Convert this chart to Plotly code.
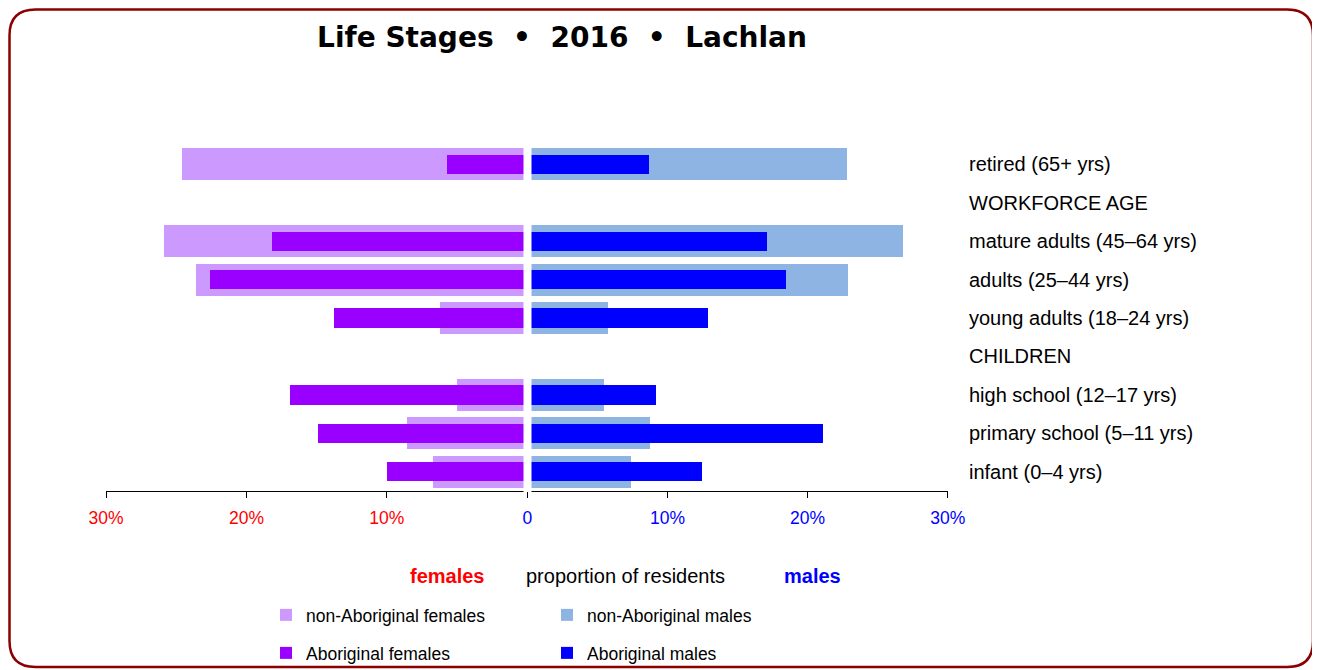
import plotly.graph_objects as go

# page body has an 8px margin, so the figure is 1312x662 and coordinates are shifted
OFF = 8
W, H = 1320 - OFF, 670 - OFF

# ---- data (top to bottom) ----
categories = ["retired (65+ yrs)", "WORKFORCE AGE", "mature adults (45–64 yrs)",
              "adults (25–44 yrs)", "young adults (18–24 yrs)", "CHILDREN",
              "high school (12–17 yrs)", "primary school (5–11 yrs)", "infant (0–4 yrs)"]
nonab_females = [24.6, None, 25.9, 23.6, 6.2, None, 5.0, 8.6, 6.7]
ab_females = [5.7, None, 18.2, 22.6, 13.8, None, 16.9, 14.9, 10.0]
nonab_males = [22.8, None, 26.8, 22.9, 5.8, None, 5.5, 8.75, 7.4]
ab_males = [8.7, None, 17.1, 18.5, 12.9, None, 9.2, 21.1, 12.5]

tick_vals = [0, 10, 20, 30]
tick_text_f = ["", "10%", "20%", "30%"]
tick_text_m = ["0", "10%", "20%", "30%"]

FONT = "Liberation Sans, Arial, sans-serif"
FS = 20
LEG_FS = 17.5

def px(x):
    return (x - OFF) / W

def py(y):
    return 1 - (y - OFF) / H

fig = go.Figure()

fig.add_trace(go.Bar(y=categories, x=nonab_females, orientation="h", width=0.83,
                     marker=dict(color="#CC99FF", line=dict(width=0)),
                     name="non-Aboriginal females", xaxis="x", yaxis="y", legend="legend"))
fig.add_trace(go.Bar(y=categories, x=nonab_males, orientation="h", width=0.83,
                     marker=dict(color="#8EB4E3", line=dict(width=0)),
                     name="non-Aboriginal males", xaxis="x2", yaxis="y2", legend="legend"))
fig.add_trace(go.Bar(y=categories, x=ab_females, orientation="h", width=0.5,
                     marker=dict(color="#9900FF", line=dict(width=0)),
                     name="Aboriginal females", xaxis="x", yaxis="y", legend="legend2"))
fig.add_trace(go.Bar(y=categories, x=ab_males, orientation="h", width=0.5,
                     marker=dict(color="#0000FF", line=dict(width=0)),
                     name="Aboriginal males", xaxis="x2", yaxis="y2", legend="legend2"))

cat_order = list(reversed(categories))
ydom = [py(491), py(145)]

axis_common = dict(showgrid=False, zeroline=False, showline=True, linecolor="black",
                   linewidth=1, ticks="outside", ticklen=6, tickcolor="black",
                   tickmode="array", tickvals=tick_vals, fixedrange=True, automargin=False,
                   ticklabelstandoff=5)

fig.update_layout(
    width=W, height=H,
    margin=dict(l=0, r=0, t=0, b=0, autoexpand=False),
    paper_bgcolor="white", plot_bgcolor="white",
    barmode="overlay", bargap=0,
    font=dict(family=FONT, size=FS, color="black"),
    xaxis=dict(domain=[px(106), px(527.3)], range=[30, 0], anchor="y",
               ticktext=tick_text_f, tickfont=dict(family=FONT, size=17.5, color="#FF0000"),
               **axis_common),
    xaxis2=dict(domain=[px(527.3), px(947.7)], range=[0, 30], anchor="y2",
                ticktext=tick_text_m, tickfont=dict(family=FONT, size=17.5, color="#0000FF"),
                **axis_common),
    yaxis=dict(domain=ydom, type="category", categoryorder="array", categoryarray=cat_order,
               range=[-0.5, 8.5], visible=False, anchor="x", fixedrange=True),
    yaxis2=dict(domain=ydom, type="category", categoryorder="array", categoryarray=cat_order,
                range=[-0.5, 8.5], visible=False, anchor="x2", fixedrange=True),
    title=dict(text="Life Stages\u00a0\u00a0•\u00a0\u00a02016\u00a0\u00a0•\u00a0\u00a0Lachlan",
               x=px(562), xref="container", xanchor="center",
               y=py(37), yref="container", yanchor="middle",
               font=dict(family="DejaVu Sans", size=28, color="black", weight="bold")),
    legend=dict(orientation="h", x=px(266), xanchor="left", y=py(615), yanchor="middle",
                entrywidth=236, entrywidthmode="pixels", itemwidth=30,
                font=dict(family=FONT, size=LEG_FS, color="black"), bgcolor="rgba(0,0,0,0)",
                itemclick=False, itemdoubleclick=False, traceorder="normal"),
    legend2=dict(orientation="h", x=px(266), xanchor="left", y=py(653), yanchor="middle",
                 entrywidth=236, entrywidthmode="pixels", itemwidth=30,
                 font=dict(family=FONT, size=LEG_FS, color="black"), bgcolor="rgba(0,0,0,0)",
                 itemclick=False, itemdoubleclick=False, traceorder="normal"),
    showlegend=True,
)

annotations = []
for c in categories:
    annotations.append(dict(text=c, x=px(967), xref="paper", xanchor="left",
                            y=c, yref="y2", yanchor="middle", showarrow=False,
                            font=dict(family=FONT, size=FS, color="black")))
annotations.append(dict(text="<b>females</b>", x=px(447), xref="paper", xanchor="center",
                        y=py(576), yref="paper", yanchor="middle", showarrow=False,
                        font=dict(family=FONT, size=FS, color="#FF0000")))
annotations.append(dict(text="proportion of residents", x=px(625.5), xref="paper", xanchor="center",
                        y=py(576), yref="paper", yanchor="middle", showarrow=False,
                        font=dict(family=FONT, size=FS, color="black")))
annotations.append(dict(text="<b>males</b>", x=px(812), xref="paper", xanchor="center",
                        y=py(576), yref="paper", yanchor="middle", showarrow=False,
                        font=dict(family=FONT, size=FS, color="#0000FF")))
fig.update_layout(annotations=annotations)

# centre gap between the two halves
shapes = [dict(type="rect", xref="paper", yref="paper", x0=px(523.5), x1=px(531.5),
               y0=py(492), y1=py(140), fillcolor="white", line=dict(width=0), layer="above")]

# rounded border
L, R, T, B, r = 9.5, 1313, 9.5, 667, 26
path = (f"M {px(L + r)},{py(T)} L {px(R - r)},{py(T)} Q {px(R)},{py(T)} {px(R)},{py(T + r)} "
        f"L {px(R)},{py(B - r)} Q {px(R)},{py(B)} {px(R - r)},{py(B)} "
        f"L {px(L + r)},{py(B)} Q {px(L)},{py(B)} {px(L)},{py(B - r)} "
        f"L {px(L)},{py(T + r)} Q {px(L)},{py(T)} {px(L + r)},{py(T)} Z")
shapes.append(dict(type="path", path=path, xref="paper", yref="paper",
                   line=dict(color="#8B0000", width=2.5), fillcolor="rgba(0,0,0,0)", layer="above"))
fig.update_layout(shapes=shapes)

fig.write_html("out.html")
